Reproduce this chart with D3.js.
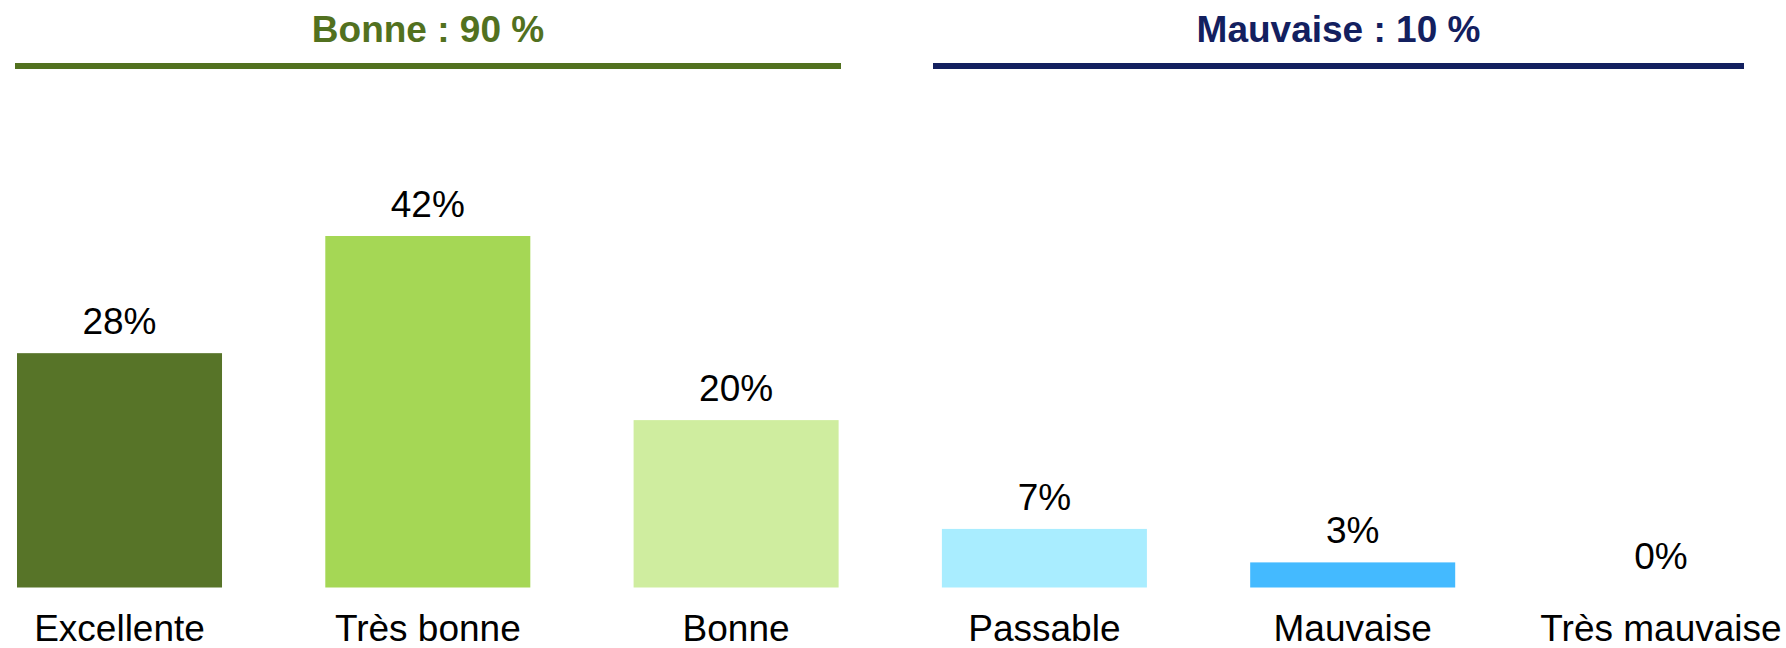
<!DOCTYPE html>
<html>
<head>
<meta charset="utf-8">
<script src="https://cdn.jsdelivr.net/npm/d3@7"></script>
<style>
  html, body { margin: 0; padding: 0; background: #fff; }
  svg { display: block; font-family: "Liberation Sans", Arial, sans-serif; }
</style>
</head>
<body>
<div id="chart"></div>
<script>
// data
const categories = ["Excellente", "Très bonne", "Bonne", "Passable", "Mauvaise", "Très mauvaise"];
const values     = [28, 42, 20, 7, 3, 0];
const barColors  = ["#577428", "#A5D755", "#CFED9F", "#A9EDFF", "#44BAFF", "#1B3F8F"];
const groupTitles = ["Bonne : 90 %", "Mauvaise : 10 %"];
const groupMembers = [["Excellente", "Très bonne", "Bonne"], ["Passable", "Mauvaise", "Très mauvaise"]];
const groupColors = ["#52711F", "#13205F"];

const W = 1786, H = 648;
const svg = d3.select("#chart").append("svg")
    .attr("width", W)
    .attr("height", H);

const x = d3.scaleBand()
    .domain(categories)
    .range([17, 1763.5])
    .paddingInner(0.335)
    .paddingOuter(0);

const y = d3.scaleLinear()
    .domain([0, 42])
    .range([587.5, 236]);

// bars
svg.selectAll("rect.bar")
    .data(values)
    .join("rect")
    .attr("class", "bar")
    .attr("x", (d, i) => x(categories[i]))
    .attr("y", d => y(d))
    .attr("width", x.bandwidth())
    .attr("height", d => y(0) - y(d))
    .attr("fill", (d, i) => barColors[i]);

// value labels
svg.selectAll("text.val")
    .data(values)
    .join("text")
    .attr("class", "val")
    .attr("x", (d, i) => x(categories[i]) + x.bandwidth() / 2)
    .attr("y", d => y(d) - 19)
    .attr("text-anchor", "middle")
    .attr("font-size", 37)
    .attr("fill", "#000")
    .text(d => d + "%");

// category labels (axis without line/ticks)
const xAxis = svg.append("g")
    .attr("transform", `translate(0,${y(0)})`)
    .call(d3.axisBottom(x).tickSize(0).tickPadding(0));
xAxis.select(".domain").remove();
xAxis.selectAll("text")
    .attr("dy", 0)
    .attr("y", 53.5)
    .attr("font-size", 37)
    .attr("font-family", "Liberation Sans, Arial, sans-serif")
    .attr("fill", "#000");

// group headers with rule lines
const lineSpans = [[15, 841], [933, 1744]];
groupMembers.forEach((members, g) => {
  const [xs, xe] = lineSpans[g];
  svg.append("line")
      .attr("x1", xs).attr("x2", xe)
      .attr("y1", 66).attr("y2", 66)
      .attr("stroke", groupColors[g])
      .attr("stroke-width", 6);
  svg.append("text")
      .attr("x", (xs + xe) / 2)
      .attr("y", 41.5)
      .attr("text-anchor", "middle")
      .attr("font-size", 37)
      .attr("font-weight", "bold")
      .attr("fill", groupColors[g])
      .text(groupTitles[g]);
});
</script>
</body>
</html>
